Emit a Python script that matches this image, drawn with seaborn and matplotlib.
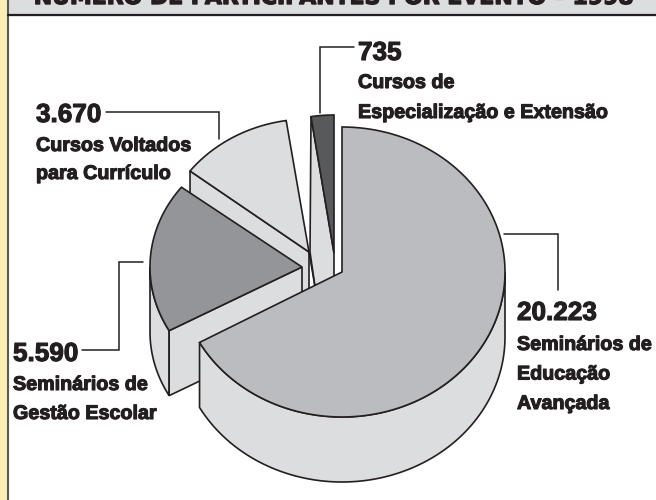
import numpy as np
import seaborn as sns
import matplotlib.pyplot as plt
import matplotlib.patheffects as pe

# DATA
categories = ["Seminários de\nEducação\nAvançada", "Seminários de\nGestão Escolar",
              "Cursos Voltados\npara Currículo", "Cursos de\nEspecialização e Extensão"]
values = [20223, 5590, 3670, 735]
value_labels = ["20.223", "5.590", "3.670", "735"]
title = "NÚMERO DE PARTICIPANTES POR EVENTO – 1998"

# SETTING (pixel layout)
centers = [(342, 272), (302, 267), (309, 252), (334, 253)]
radius_x = [163, 152, 150, 151]
radius_y = [145, 131, 133, 138]
depth = 65
ink = "#231f20"
colors = sns.color_palette(["#bbbcbf", "#939598", "#dcddde", "#58595b"])
side = "#dcddde"

sns.set_theme(style="white")
plt.rcParams['font.family'] = ['Liberation Sans', 'DejaVu Sans']

fig = plt.figure(figsize=(6.56, 5.00), dpi=100)
ax = fig.add_axes([0, 0, 1, 1])
ax.set_xlim(0, 656)
ax.set_ylim(500, 0)
ax.axis("off")

# angles go clockwise from the top, slice 1 ends below 0 and the rest wrap to 0-360
spans = np.array(values) / sum(values) * 360
ends = 90 - np.cumsum(spans)
starts = ends + spans
ends[1:] += 360
starts[1:] += 360


def arc(i, a, b, drop=0):
    t = np.radians(np.linspace(a, b, 120))
    cx, cy = centers[i]
    return np.column_stack([cx + radius_x[i] * np.cos(t), cy - radius_y[i] * np.sin(t) + drop])


def poly(pts, color, z):
    pts = np.array(pts)
    ax.fill(pts[:, 0], pts[:, 1], facecolor=color, edgecolor=ink, linewidth=1.2, zorder=z, joinstyle="miter")


def top(i, z):
    poly(np.vstack([[centers[i]], arc(i, starts[i], ends[i])]), colors[i], z)


# BACKGROUND
ax.axvspan(0, 7, color="#fdeeb5", zorder=0)
ax.plot([7.5, 7.5], [0, 500], color="#58595b", linewidth=1.5, zorder=1)
ax.fill_between([8, 656], 0, 15, color="#dcddde", zorder=0)
ax.plot([8, 656], [15, 15], color=ink, linewidth=1.6, zorder=1)
ax.text(334, 4, title, ha="center", va="baseline", fontsize=15.8, color=ink, fontfamily="DejaVu Sans",
        fontweight="bold", zorder=2, path_effects=[pe.withStroke(linewidth=1, foreground=ink)])

# SLICE 4 (smallest, at the back)
outer_4 = arc(3, starts[3], ends[3])[0]
outer_3 = arc(2, starts[2], ends[2])[-1]
run = np.array(centers[2]) - outer_3
poly([outer_4, (outer_4[0] - 1, centers[2][1]), centers[2] + run * 0.25,
      (centers[3][0], centers[3][1] + depth), centers[3]], side, 3)
top(3, 4)

# SLICE 3
z = 5
inner = arc(2, starts[2], ends[2])[0]
poly([inner, centers[2], (centers[2][0], centers[2][1] + depth), inner + (0, depth)], side, z)
top(2, z + 1)
ax.plot([centers[2][0], centers[2][0] + run[0] * 0.25], [centers[2][1], centers[2][1] + run[1] * 0.25],
        color=ink, linewidth=1.2, zorder=z + 1)

# SLICE 2
z = 7
cut = arc(1, starts[1], ends[1])[0]
poly(np.vstack([arc(1, 180, starts[1]), arc(1, starts[1], 180, depth)]), side, z)
poly([cut, centers[1], (centers[1][0], centers[1][1] + depth), cut + (0, depth)], side, z)
top(1, z + 1)

# SLICE 1 (biggest, in front)
z = 9
poly(np.vstack([arc(0, ends[0], 0), arc(0, 0, ends[0], depth)]), side, z)
top(0, z + 1)

# LABELS
value_pos = [(517, 320), (13, 361), (36, 122), (358, 60)]
name_pos = [(517, 350), (13, 390), (36, 151), (358, 88)]
name_gap = [29.5, 29, 28, 30]
leaders = [([504, 558, 558], [234, 234, 290]),
           ([82, 119, 119, 143], [350, 350, 262, 262]),
           ([106, 219, 219], [112, 112, 139]),
           ([354, 320, 320], [47, 47, 113])]
thick = [pe.withStroke(linewidth=0.8, foreground=ink)]

for i in range(len(values)):
    ax.plot(leaders[i][0], leaders[i][1], color=ink, linewidth=1.1, solid_joinstyle="miter", zorder=11)
    ax.text(value_pos[i][0], value_pos[i][1], value_labels[i], fontsize=18.8, fontweight="bold", color=ink,
            va="baseline", path_effects=thick, zorder=12)
    for n, line in enumerate(categories[i].split("\n")):
        ax.text(name_pos[i][0], name_pos[i][1] + n * name_gap[i], line, fontsize=14.2, fontweight="bold",
                color=ink, va="baseline", path_effects=thick, zorder=12)

plt.savefig("out.png", dpi=100)
plt.close()
